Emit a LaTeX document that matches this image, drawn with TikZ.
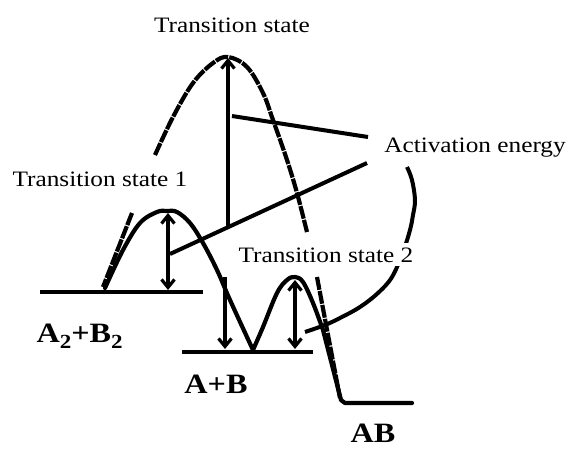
\documentclass[tikz,border=0pt]{standalone}
\usepackage{fontspec}
\setmainfont{Liberation Serif}[FakeStretch=1.15]
\usetikzlibrary{arrows.meta}
\newcommand{\lowidx}[1]{\raisebox{-.22em}{\fontsize{20}{20}\selectfont #1}}

\begin{document}
\begin{tikzpicture}[x=1pt,y=-1pt,
  curve/.style={line width=4.2pt,line join=round,line cap=round},
  dcurve/.style={line width=4.2pt,dash pattern=on 13pt off 1.2pt},
  lvl/.style={line width=4pt},
  lead/.style={line width=4pt},
  earrow/.style={-{Straight Barb[length=8pt,width=13pt]},line width=3.2pt},
  darrow/.style={{Straight Barb[length=8pt,width=13pt]}-{Straight Barb[length=8pt,width=13pt]},line width=3.2pt},
  lbl/.style={font=\fontsize{22}{26}\selectfont,anchor=base},
  blbl/.style={font=\fontsize{28}{32}\selectfont\bfseries,anchor=base}]
 \useasboundingbox (0,0) rectangle (574,448);
 % energy levels
 \draw[lvl] (40,292)--(203,292);
 \draw[lvl] (182,352)--(313,352);
 % direct path, one high barrier
 \draw[dcurve] plot[smooth,tension=.6] coordinates {(155,155) (173,117)
   (193,83) (213,63) (228,57) (247,67) (263,93) (273,120) (287,160)
   (297,193) (307,232)};
 % two step path
 \draw[curve] plot[smooth,tension=.6] coordinates {(105,288) (123,250)
   (140,223) (157,212) (167,211) (177,212) (190,223) (203,243) (217,270)
   (230,300) (253,350)};
 \draw[curve] plot[smooth,tension=.6] coordinates {(253,350) (263,327)
   (277,293) (287,280) (295,277) (303,282) (313,303) (323,330)}
   --(341,400)--(345,403)--(412,403);
 \draw[dcurve] (132,213)--(103,287);
 \draw[dcurve] (317,277)--(340,398);
 % arrows
 \coordinate (top0) at (228,58);
 \coordinate (foot0) at (228,228);
 \coordinate (top1) at (168,213);
 \coordinate (foot1) at (168,290);
 \coordinate (top2) at (295,280);
 \coordinate (foot2) at (295,349);
 \coordinate (fall1) at (225,277);
 \coordinate (land1) at (225,349);
 \draw[earrow] (foot0)--(top0);
 \draw[darrow] (top1)--(foot1);
 \draw[darrow] (top2)--(foot2);
 \draw[earrow] (fall1)--(land1);
 % labels
 \node[lbl] (ts) at (232,32) {Transition state};
 \node[lbl] (ts1) at (100,186) {Transition state 1};
 \node[lbl] (ae) at (475,152) {Activation energy};
 \node[blbl,anchor=base west] (lA2B2) at (33,342) {A\lowidx{2}+B\lowidx{2}};
 \node[blbl] (lAB1) at (216,393) {A+B};
 \node[blbl] (lAB) at (373,442) {AB};
 % leaders
 \coordinate (ae1) at (368,137);
 \coordinate (ae2) at (367,163);
 \coordinate (mid0) at (232,116);
 \coordinate (mid1) at (170,254);
 \draw[lead] (ae1)--(mid0);
 \draw[lead] (ae2)--(mid1);
 \draw[lead] plot[smooth,tension=.6] coordinates {(407,167) (412,180)
   (415,200) (413,215) (410,230) (403,252) (392,277) (378,293) (360,307)
   (340,318) (325,325) (305,332)};
 \node[lbl,fill=white,inner ysep=4pt] (ts2) at (326,262) {Transition state 2};
\end{tikzpicture}
\end{document}
